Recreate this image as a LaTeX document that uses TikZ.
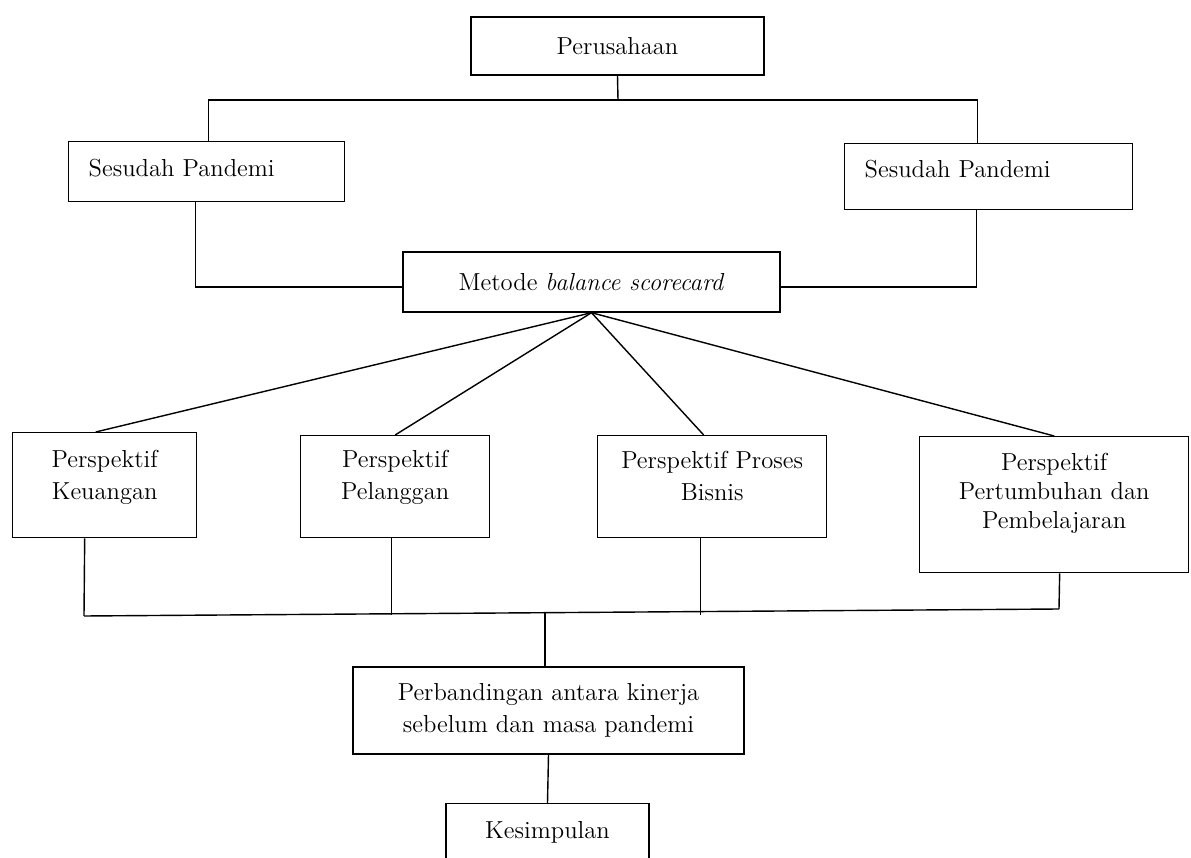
\documentclass[tikz,border=0pt]{standalone}
\begin{document}
\begin{tikzpicture}[x=0.02cm, y=-0.02cm, line width=0.8pt,
    every node/.style={font=\fontsize{14}{18}\selectfont},
    kotak/.style={draw, inner sep=0pt, align=center},
    kotakatas/.style={kotak, anchor=north west}]
    % Bingkai del disegno
    \clip (0,0) rectangle (1191,858);

    % Kotak in alto
    \node[kotak, minimum width=5.86cm, minimum height=1.16cm] (perusahaan) at (617.5,46) {Perusahaan};

    % Due kotak laterali
    \node[kotakatas, align=left, inner xsep=0.4cm, text width=4.72cm, text height=0.7cm, text depth=0.5cm] (sesudahkiri) at (68,141) {Sesudah Pandemi};
    \node[kotakatas, align=left, inner xsep=0.4cm, text width=4.96cm, text height=0.68cm, text depth=0.64cm] (sesudahkanan) at (844,143) {Sesudah Pandemi};

    % Metodo
    \node[kotak, minimum width=7.54cm, minimum height=1.2cm] (metode) at (591.5,282) {Metode \textit{balance scorecard}};

    % Le quattro prospettive
    \node[kotakatas, text width=3.68cm, text height=0.7cm, text depth=1.4cm] (keuangan) at (12,432) {Perspektif\\Keuangan};
    \node[kotakatas, text width=3.78cm, text height=0.64cm, text depth=1.4cm] (pelanggan) at (300,435) {Perspektif\\Pelanggan};
    \node[kotakatas, text width=4.58cm, text height=0.66cm, text depth=1.38cm] (proses) at (597,435) {Perspektif Proses\\Bisnis};
    \node[kotakatas, text width=5.38cm, text height=0.68cm, text depth=2.04cm, font=\fontsize{14}{16.5}\selectfont] (pertumbuhan) at (919,436) {Perspektif\\Pertumbuhan dan\\Pembelajaran};

    % Confronto e conclusione
    \node[kotak, minimum width=7.82cm, minimum height=1.74cm] (perbandingan) at (548.5,710.5) {Perbandingan antara kinerja\\sebelum dan masa pandemi};
    \node[kotakatas, anchor=north, text width=4.06cm, text height=0.7cm, text depth=1.2cm] (kesimpulan) at (547.5,803) {Kesimpulan};

    % Linee in alto
    \coordinate (atas) at (618,100);
    \draw (perusahaan.south) -- (atas);
    \draw ([xshift=0.04cm]sesudahkiri.north) |- (atas) -| ([xshift=-0.22cm]sesudahkanan.north);
    \draw ([xshift=-0.22cm]sesudahkiri.south) |- ([yshift=-0.1cm]metode.west);
    \draw ([xshift=-0.24cm]sesudahkanan.south) |- ([yshift=-0.1cm]metode.east);

    % Linee a ventaglio
    \draw (metode.south) -- ([xshift=-0.18cm]keuangan.north);
    \draw (metode.south) -- (pelanggan.north);
    \draw (metode.south) -- ([xshift=-0.17cm]proses.north);
    \draw (metode.south) -- (pertumbuhan.north);

    % Linea di raccolta
    \coordinate (buskiri) at (84,616);
    \coordinate (buskanan) at (1059,609);
    \draw (buskiri) -- (buskanan);
    \draw ([xshift=-0.4cm]keuangan.south) -- (buskiri);
    \draw ([xshift=-0.07cm]pelanggan.south) -- ++(0,77);
    \draw ([xshift=-0.23cm]proses.south) -- ++(0,77);
    \draw ([xshift=0.11cm]pertumbuhan.south) -- (buskanan);
    \draw ([xshift=-0.07cm]perbandingan.north) -- ++(0,-54);
    \draw (perbandingan.south) -- (kesimpulan.north);
\end{tikzpicture}
\end{document}
